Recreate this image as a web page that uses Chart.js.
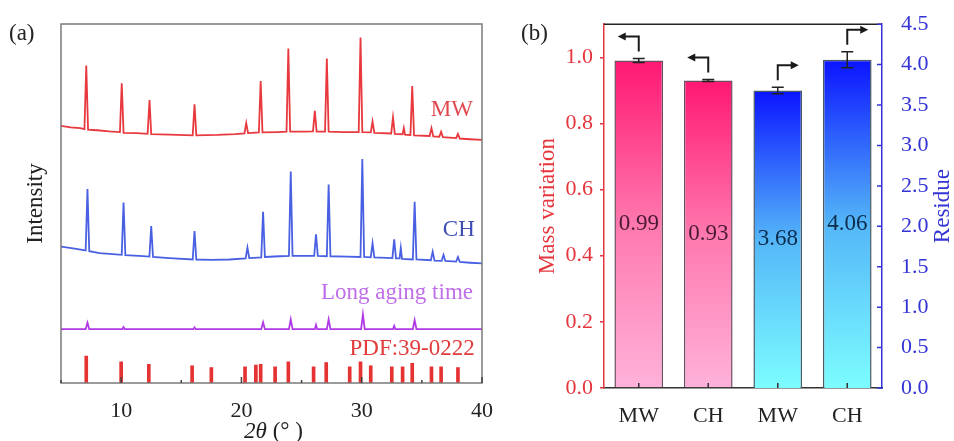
<!DOCTYPE html>
<html>
<head>
<meta charset="utf-8">
<script src="https://cdn.jsdelivr.net/npm/chart.js@4.4.1/dist/chart.umd.min.js"></script>
<style>
html,body{margin:0;padding:0;background:#fff;}
#wrap{position:relative;width:954px;height:441px;overflow:hidden;font-family:"Liberation Serif","Times New Roman",serif;}
canvas{position:absolute;top:0;}
#ca{left:0;}
#cb{left:520px;}
.tag{position:absolute;font-size:23px;line-height:26px;color:#222;}
</style>
</head>
<body>
<div id="wrap">
  <canvas id="ca" width="520" height="441"></canvas>
  <canvas id="cb" width="434" height="441"></canvas>
  <div class="tag" style="left:9px;top:20px">(a)</div>
  <div class="tag" style="left:521px;top:20px">(b)</div>
</div>
<script>
const serif = '"Liberation Serif", "Times New Roman", serif'

// ---- (a) XRD patterns, [2theta, intensity (a.u., stacked)]
const xrdMW = [[5,71.6],[5.8,71.2],[6.6,71.0],[6.95,70.7],[7.1,88.4],[7.25,70.6],[8,70.4],[9,70.1],
  [9.9,69.9],[10.05,83.5],[10.2,69.7],[11.3,69.6],[12.2,69.4],[12.36,78.8],[12.5,69.3],[14,69.2],
  [15.95,69.0],[16.1,77.6],[16.25,69.0],[18,69.1],[19.5,69.3],[20.25,69.5],[20.4,72.4],[20.55,69.6],
  [21.45,69.8],[21.6,84.1],[21.75,69.8],[23,69.9],[23.75,70.0],[23.9,93.2],[24.05,70.0],[25.3,70.0],
  [25.95,70.1],[26.1,75.8],[26.25,70.0],[26.95,70.0],[27.1,90.4],[27.25,70.0],[28.5,69.9],[29.75,69.9],
  [29.9,96.2],[30.05,69.9],[30.75,69.8],[30.9,72.8],[31.05,69.7],[32.45,69.5],[32.6,74.0],[32.75,69.4],
  [33.4,69.3],[33.5,71.0],[33.6,69.2],[34.05,69.1],[34.2,82.7],[34.35,69.0],[35.65,68.8],[35.8,71.0],
  [35.95,68.7],[36.45,68.6],[36.6,70.0],[36.75,68.5],[37.85,68.2],[38.0,69.4],[38.15,68.1],[39,67.9],[40,67.7]]
const xrdCH = [[5,38.0],[6,37.5],[6.9,37.0],[7.05,36.9],[7.2,54.0],[7.35,36.7],[8.2,36.2],[9.3,35.9],
  [10.05,35.7],[10.2,50.3],[10.35,35.6],[11.5,35.4],[12.35,35.2],[12.5,43.7],[12.65,35.1],[14,34.8],
  [15.95,34.4],[16.1,42.3],[16.25,34.4],[17.5,34.3],[19,34.4],[20.35,34.7],[20.5,37.7],[20.65,34.8],
  [21.65,35.0],[21.8,47.7],[21.95,35.1],[23.2,35.3],[23.95,35.4],[24.1,58.9],[24.25,35.4],[25.3,35.4],
  [26.05,35.4],[26.2,41.4],[26.35,35.4],[27.1,35.3],[27.25,55.3],[27.4,35.3],[28.8,35.2],[29.9,35.1],
  [30.05,62.4],[30.2,35.1],[30.75,35.0],[30.9,38.9],[31.05,35.0],[32.55,34.8],[32.7,40.0],[32.85,34.7],
  [33.15,34.7],[33.25,37.6],[33.35,34.6],[34.25,34.4],[34.4,50.5],[34.55,34.4],[35.75,34.2],[35.9,36.6],
  [36.05,34.1],[36.65,34.0],[36.8,35.7],[36.95,34.0],[37.85,33.8],[38.0,35.1],[38.15,33.7],[39,33.5],[40,33.3]]
const xrdLong = [[5,15.0],[7.05,15.0],[7.2,16.8],[7.35,15.0],[10.1,15.0],[10.2,15.6],[10.3,15.0],
  [16.0,15.0],[16.1,15.5],[16.2,15.0],[21.65,15.0],[21.8,16.9],[21.95,15.0],[23.95,15.0],[24.1,17.7],
  [24.25,15.0],[26.1,15.0],[26.2,16.2],[26.3,15.0],[27.1,15.0],[27.25,17.7],[27.4,15.0],[29.95,15.0],
  [30.1,19.1],[30.25,15.0],[32.6,15.0],[32.7,15.9],[32.8,15.0],[34.25,15.0],[34.4,17.5],[34.55,15.0],[40,15.0]]
const pdfPos = [7.1,10.0,12.3,15.9,17.5,20.3,21.2,21.6,22.8,23.9,26.0,27.05,29.0,29.9,30.75,32.5,33.4,34.2,35.8,36.6,38.0]
const pdfHeight = [7.5,5.9,5.2,4.8,4.3,4.5,5.0,5.2,4.5,5.9,4.5,5.7,4.5,5.9,4.8,4.5,4.5,5.5,4.5,4.5,4.3]
const xrdTicks = [10,20,30,40]
const xrdMinorTicks = [5,15,25,35]

// ---- (b) bars
const barLabels = ['MW','CH','MW','CH']
const massVariation = [0.99,0.93,null,null]
const massError = [0.006,0.003,null,null]
const residue = [null,null,3.68,4.06]
const residueError = [null,null,0.04,0.1]
const arrowSide = ['left','left','right','right']
const massTicks = [0,0.2,0.4,0.6,0.8,1.0]
const residueTicks = [0,0.5,1.0,1.5,2.0,2.5,3.0,3.5,4.0,4.5]

const red = '#e5363d'
const blue = '#3434d6'

const curveTags = [
  {text:'MW', x:39.25, y:76.0, color:'#e04a4f'},
  {text:'CH', x:39.4, y:42.6, color:'#3e4db5'},
  {text:'Long aging time', x:39.25, y:25.1, color:'#c06ee8'},
  {text:'PDF:39-0222', x:39.4, y:9.5, color:'#e03c3c'}
]

const xrdDecor = {
  id:'xrdDecor',
  afterDatasetsDraw(chart){
    const {ctx, chartArea:a, scales:{x, y}} = chart
    ctx.save()
    ctx.strokeStyle = '#7a7a7a'
    ctx.lineWidth = 1.5
    ctx.strokeRect(a.left, a.top, a.right - a.left, a.bottom - a.top)
    ctx.strokeStyle = '#444'
    ctx.beginPath()
    xrdTicks.forEach(v=>{ const px = x.getPixelForValue(v); ctx.moveTo(px, a.bottom); ctx.lineTo(px, a.bottom - 6) })
    xrdMinorTicks.forEach(v=>{ const px = x.getPixelForValue(v); ctx.moveTo(px, a.bottom); ctx.lineTo(px, a.bottom - 3) })
    ctx.stroke()
    ctx.font = '23px ' + serif
    ctx.textAlign = 'right'
    ctx.textBaseline = 'middle'
    curveTags.forEach(t=>{
      ctx.fillStyle = t.color
      ctx.fillText(t.text, x.getPixelForValue(t.x), y.getPixelForValue(t.y))
    })
    // axis title: italic 2θ + upright (° )
    const cx = (x.left + x.right) / 2 + 2
    const ty = x.bottom - 9
    ctx.fillStyle = '#222'
    ctx.textAlign = 'left'
    const italic = 'italic 23px ' + serif, upright = '23px ' + serif
    ctx.font = italic
    const w1 = ctx.measureText('2θ').width
    ctx.font = upright
    const w2 = ctx.measureText(' (° )').width
    let sx = cx - (w1 + w2) / 2
    ctx.font = italic
    ctx.fillText('2θ', sx, ty)
    ctx.font = upright
    ctx.fillText(' (° )', sx + w1, ty)
    ctx.restore()
  }
}

new Chart(document.getElementById('ca'), {
  type:'line',
  data:{
    datasets:[
      {label:'MW', data:xrdMW, borderColor:'#e8393f', borderWidth:1.8, pointRadius:0, tension:0},
      {label:'CH', data:xrdCH, borderColor:'#4a60e2', borderWidth:1.8, pointRadius:0, tension:0},
      {label:'Long aging time', data:xrdLong, borderColor:'#b03ae6', borderWidth:1.8, pointRadius:0, tension:0},
      {type:'bar', label:'PDF:39-0222', data:pdfPos.map((p, i)=>({x:p, y:pdfHeight[i]})),
        backgroundColor:'#e53232', barThickness:3}
    ]
  },
  options:{
    responsive:false,
    animation:false,
    layout:{padding:{top:24, right:38, left:0, bottom:0}},
    plugins:{legend:{display:false}, tooltip:{enabled:false}},
    scales:{
      x:{
        type:'linear', min:5, max:40, offset:false,
        afterBuildTicks:s=>{ s.ticks = xrdTicks.map(v=>({value:v})) },
        ticks:{color:'#222', font:{family:serif, size:22}, padding:7},
        grid:{display:false},
        border:{display:false},
        afterFit:s=>{ s.height = 58 }
      },
      y:{
        min:0, max:100,
        ticks:{display:false},
        grid:{display:false},
        border:{display:false},
        title:{display:true, text:'Intensity', color:'#222', font:{family:serif, size:23, lineHeight:1}, padding:{top:24, bottom:0}},
        afterFit:s=>{ s.width = 61 }
      }
    }
  },
  plugins:[xrdDecor]
})

function barFill(c0, c1, c2){
  return ctx=>{
    const {chart, dataset} = ctx
    const v = ctx.raw
    if (!chart.chartArea || v == null) return c0
    const s = chart.scales[dataset.yAxisID]
    const g = chart.ctx.createLinearGradient(0, s.getPixelForValue(v), 0, s.getPixelForValue(0))
    g.addColorStop(0, c0)
    g.addColorStop(0.5, c1)
    g.addColorStop(1, c2)
    return g
  }
}

const barDecor = {
  id:'barDecor',
  afterDatasetsDraw(chart){
    const {ctx, chartArea:a, scales} = chart
    ctx.save()
    ctx.lineWidth = 1.5
    ctx.strokeStyle = '#222'
    ctx.beginPath()
    ctx.moveTo(a.left, a.top)
    ctx.lineTo(a.right, a.top)
    ctx.stroke()
    // inward ticks on bottom and right axes
    ctx.strokeStyle = '#333'
    ctx.beginPath()
    barLabels.forEach((l, i)=>{ const px = scales.x.getPixelForValue(i); ctx.moveTo(px, a.bottom); ctx.lineTo(px, a.bottom - 5) })
    ctx.stroke()
    ctx.strokeStyle = blue
    ctx.beginPath()
    residueTicks.forEach(v=>{ const py = scales.y1.getPixelForValue(v); ctx.moveTo(a.right, py); ctx.lineTo(a.right - 5, py) })
    ctx.stroke()
    // right title, read bottom-to-top
    ctx.save()
    ctx.translate(scales.y1.right - 11, (a.top + a.bottom) / 2)
    ctx.rotate(-Math.PI / 2)
    ctx.font = '23px ' + serif
    ctx.fillStyle = blue
    ctx.textAlign = 'center'
    ctx.textBaseline = 'middle'
    ctx.fillText('Residue', 0, 0)
    ctx.restore()

    chart.data.datasets.forEach((ds, di)=>{
      const meta = chart.getDatasetMeta(di)
      const ys = scales[ds.yAxisID]
      meta.data.forEach((bar, i)=>{
        const v = ds.data[i]
        if (v == null) return
        const err = ds.errors[i]
        const top = ys.getPixelForValue(v + err), bot = ys.getPixelForValue(v - err)
        ctx.strokeStyle = '#222'
        ctx.lineWidth = 1.5
        ctx.beginPath()
        ctx.moveTo(bar.x, top); ctx.lineTo(bar.x, bot)
        ctx.moveTo(bar.x - 6, top); ctx.lineTo(bar.x + 6, top)
        ctx.moveTo(bar.x - 6, bot); ctx.lineTo(bar.x + 6, bot)
        ctx.stroke()
        // value
        ctx.font = '23px ' + serif
        ctx.fillStyle = ds.labelColor
        ctx.textAlign = 'center'
        ctx.textBaseline = 'middle'
        ctx.fillText(v.toFixed(2), bar.x, (bar.y + bar.base) / 2)
        // axis arrow
        const dir = arrowSide[i] === 'left' ? -1 : 1
        const y0 = top - 7, y1 = y0 - 15, x1 = bar.x + dir * 21
        ctx.strokeStyle = '#1a1a1a'
        ctx.lineWidth = 2
        ctx.beginPath()
        ctx.moveTo(bar.x, y0); ctx.lineTo(bar.x, y1); ctx.lineTo(x1 - dir * 6, y1)
        ctx.stroke()
        ctx.fillStyle = '#1a1a1a'
        ctx.beginPath()
        ctx.moveTo(x1, y1); ctx.lineTo(x1 - dir * 8, y1 - 4); ctx.lineTo(x1 - dir * 8, y1 + 4)
        ctx.closePath()
        ctx.fill()
      })
    })
    ctx.restore()
  }
}

new Chart(document.getElementById('cb'), {
  type:'bar',
  data:{
    labels:barLabels,
    datasets:[
      {label:'Mass variation', data:massVariation, errors:massError, yAxisID:'y', labelColor:'#4a1a34',
        backgroundColor:barFill('#ff1872', '#ff78ae', '#ffb2da'),
        borderColor:'#6a5060', borderWidth:1.5, grouped:false, barPercentage:0.7, categoryPercentage:1},
      {label:'Residue', data:residue, errors:residueError, yAxisID:'y1', labelColor:'#0c2c4c',
        backgroundColor:barFill('#0b14ff', '#54b6f8', '#7cfdff'),
        borderColor:'#4a5a66', borderWidth:1.5, grouped:false, barPercentage:0.7, categoryPercentage:1}
    ]
  },
  options:{
    responsive:false,
    animation:false,
    layout:{padding:{top:24, right:0, left:0, bottom:0}},
    plugins:{legend:{display:false}, tooltip:{enabled:false}},
    scales:{
      x:{
        grid:{display:false},
        border:{color:'#333', width:1.5},
        ticks:{color:'#222', font:{family:serif, size:22}, padding:7},
        afterFit:s=>{ s.height = 53 }
      },
      y:{
        position:'left', min:0, max:1.1,
        afterBuildTicks:s=>{ s.ticks = massTicks.map(v=>({value:v})) },
        ticks:{color:red, font:{family:serif, size:22}, padding:7, callback:v=>v.toFixed(1)},
        grid:{drawOnChartArea:false, tickLength:4, color:red, lineWidth:1.5},
        border:{color:red, width:1.5},
        title:{display:true, text:'Mass variation', color:red, font:{family:serif, size:23, lineHeight:1}, padding:{top:16, bottom:0}},
        afterFit:s=>{ s.width = 84 }
      },
      y1:{
        position:'right', min:0, max:4.5,
        afterBuildTicks:s=>{ s.ticks = residueTicks.map(v=>({value:v})) },
        ticks:{color:blue, font:{family:serif, size:22}, padding:11, callback:v=>v.toFixed(1)},
        grid:{display:false},
        border:{color:blue, width:1.5},
        afterFit:s=>{ s.width = 72 }
      }
    }
  },
  plugins:[barDecor]
})
</script>
</body>
</html>
